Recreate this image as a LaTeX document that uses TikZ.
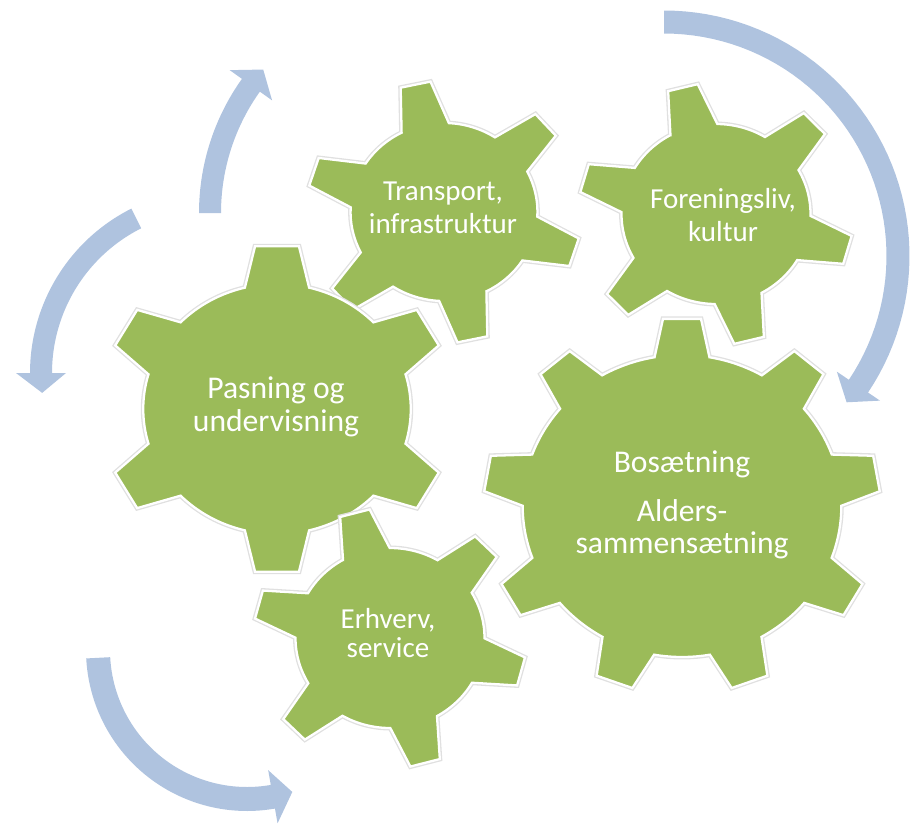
\documentclass[tikz,border=0pt]{standalone}
\usepackage{fontspec}
\setmainfont{Carlito}
\definecolor{gearGreen}{HTML}{9BBB59}
\definecolor{arrowBlue}{HTML}{AFC3DF}
\tikzset{
  gearstyle/.style={fill=gearGreen, draw=white, line width=1.3pt, line join=miter,
    preaction={draw=black!12, line width=2.8pt}},
  gtext/.style={text=white, align=center, inner sep=0pt},
  arrowstyle/.style={fill=arrowBlue},
}
% cx, cy, body radius, outer radius, teeth, offset angle, base half width, tip half width, xscale
\newcommand{\drawgear}[9]{%
  \begin{scope}[shift={(#1,#2)}, xscale=#9]
    \pgfmathsetmacro{\gstep}{360/#5}
    \pgfmathsetmacro{\gab}{asin(#7/#3)}
    \pgfmathsetmacro{\gat}{asin(#8/#4)}
    \pgfmathtruncatemacro{\glast}{#5-1}
    \path[gearstyle] ({#6-\gab}:#3)
      \foreach \k in {0,...,\glast}{
        -- ({#6+\k*\gstep-\gat}:#4) -- ({#6+\k*\gstep+\gat}:#4)
        -- ({#6+\k*\gstep+\gab}:#3)
        arc[start angle={#6+\k*\gstep+\gab}, end angle={#6+(\k+1)*\gstep-\gab}, radius=#3]
      } -- cycle;
  \end{scope}}
% cx, cy, r, tail angle, head-base angle, shaft half width, head half width, tip angle offset
\newcommand{\blockarrow}[8]{%
  \path[arrowstyle]
    plot[domain=#4:#5, samples=50] ({#1+(#3+#6)*cos(\x)},{#2+(#3+#6)*sin(\x)})
    -- ({#1+(#3+#7)*cos(#5)},{#2+(#3+#7)*sin(#5)})
    -- ({#1+#3*cos(#5+#8)},{#2+#3*sin(#5+#8)})
    -- ({#1+(#3-#7)*cos(#5)},{#2+(#3-#7)*sin(#5)})
    -- plot[domain=#5:#4, samples=50] ({#1+(#3-#6)*cos(\x)},{#2+(#3-#6)*sin(\x)})
    -- cycle;}
\begin{document}
\begin{tikzpicture}[x=0.02cm, y=-0.02cm]
\useasboundingbox (0,0) rectangle (916,832);
% curved arrows
\blockarrow{430}{213}{220}{180}{215.5}{11}{26}{5.2}
\blockarrow{214}{373}{173}{243.3}{180}{11}{25}{-6.6}
\blockarrow{664}{256}{234}{-90}{33.8}{11.5}{26}{4.9}
\blockarrow{247}{650}{149}{177}{80}{12}{27}{-7.7}
% gears
\drawgear{444}{212}{89}{131}{6}{-102}{23}{14.5}{1.05}
\drawgear{716}{214}{90}{131}{6}{-104}{23}{14.5}{1.05}
\drawgear{277}{409}{125}{164}{6}{-90}{30}{20.5}{1.07}
\drawgear{390}{638}{90}{130}{6}{-105}{23}{14.5}{1.05}
\drawgear{682}{506}{151}{188}{9}{-90}{26}{18}{1.055}
% labels
\node[gtext, font=\fontsize{16.5}{18.7}\selectfont] (transport) at (443,208) {Transport,\\infrastruktur};
\node[gtext, font=\fontsize{16.5}{18.7}\selectfont] (forening) at (723,215) {Foreningsliv,\\kultur};
\node[gtext, font=\fontsize{18}{18.7}\selectfont] (pasning) at (276,407) {Pasning og\\undervisning};
\node[gtext, font=\fontsize{18}{18.1}\selectfont] (bosaetning) at (682,505) {Bosætning\\[9.7pt]Alders-\\sammensætning};
\node[gtext, font=\fontsize{16.5}{17}\selectfont] (erhverv) at (388,633) {Erhverv,\\service};
\end{tikzpicture}
\end{document}
